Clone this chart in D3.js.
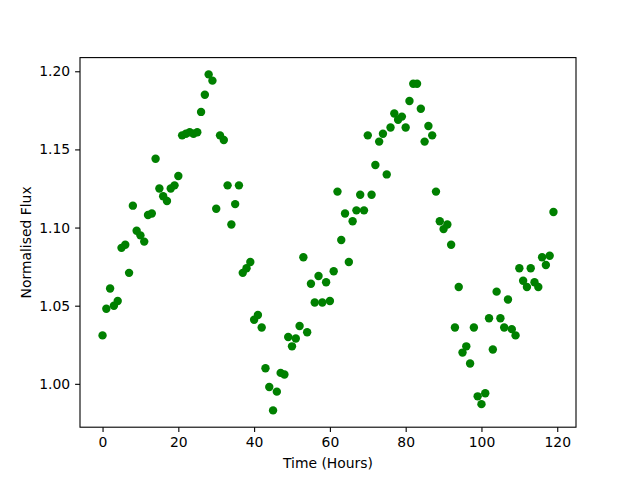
<!DOCTYPE html>
<html>
<head>
<script src="https://cdn.jsdelivr.net/npm/d3@7"></script>
<style>
  body { margin: 0; background: #fff; }
  text { font-family: "DejaVu Sans", sans-serif; }
</style>
</head>
<body>
<div id="chart"></div>
<script>
// hours of observation
var hours = d3.range(0, 120);
// normalised flux, one reading per hour
var flux = [
  1.031, 1.048, 1.061, 1.050, 1.053, 1.087, 1.089, 1.071, 1.114, 1.098,
  1.095, 1.091, 1.108, 1.109, 1.144, 1.125, 1.120, 1.117, 1.125, 1.127,
  1.133, 1.159, 1.160, 1.161, 1.160, 1.161, 1.174, 1.185, 1.198, 1.194,
  1.112, 1.159, 1.156, 1.127, 1.102, 1.115, 1.127, 1.071, 1.074, 1.078,
  1.041, 1.044, 1.036, 1.010, 0.998, 0.983, 0.995, 1.007, 1.006, 1.030,
  1.024, 1.029, 1.037, 1.081, 1.033, 1.064, 1.052, 1.069, 1.052, 1.065,
  1.053, 1.072, 1.123, 1.092, 1.109, 1.078, 1.104, 1.111, 1.121, 1.111,
  1.159, 1.121, 1.140, 1.155, 1.160, 1.134, 1.164, 1.173, 1.169, 1.171,
  1.164, 1.181, 1.192, 1.192, 1.176, 1.155, 1.165, 1.159, 1.123, 1.104,
  1.099, 1.102, 1.089, 1.036, 1.062, 1.020, 1.024, 1.013, 1.036, 0.992,
  0.987, 0.994, 1.042, 1.022, 1.059, 1.042, 1.036, 1.054, 1.035, 1.031,
  1.074, 1.066, 1.062, 1.074, 1.065, 1.062, 1.081, 1.076, 1.082, 1.110
];
var xTicks = [0, 20, 40, 60, 80, 100, 120];
var yTicks = [1.00, 1.05, 1.10, 1.15, 1.20];

var W = 640, H = 480,
    ax_l = 80, ax_r = 576,
    ax_t = 57.6, ax_b = 427.2;

var svg = d3.select("#chart").append("svg")
    .attr("width", W)
    .attr("height", H);

// matplotlib style 5% padding
function pad(ext) {
    var d = (ext[1] - ext[0]) * 0.05;
    return [ext[0] - d, ext[1] + d];
}

var x = d3.scaleLinear()
    .domain(pad(d3.extent(hours)))
    .range([ax_l, ax_r]);
var y = d3.scaleLinear()
    .domain(pad(d3.extent(flux)))
    .range([ax_b, ax_t]);

svg.selectAll("circle")
    .data(hours)
    .enter().append("circle")
        .attr("cx", function(d) { return x(d); })
        .attr("cy", function(d, i) { return y(flux[i]); })
        .attr("r", 4.2)
        .attr("fill", "#008000");

var xAxis = svg.append("g")
    .attr("transform", "translate(0," + ax_b + ")")
    .call(d3.axisBottom(x).tickValues(xTicks).tickSize(4.9).tickPadding(4.9));
var yAxis = svg.append("g")
    .attr("transform", "translate(" + ax_l + ",0)")
    .call(d3.axisLeft(y).tickValues(yTicks).tickFormat(d3.format(".2f")).tickSize(4.9).tickPadding(4.9));

[xAxis, yAxis].forEach(function(g) {
    g.select(".domain").remove();
    g.selectAll("line").attr("stroke", "#000").attr("stroke-width", 1.1);
    g.selectAll("text")
        .attr("fill", "#000")
        .style("font-size", "13.9px")
        .style("font-family", "DejaVu Sans, sans-serif");
});

// frame
svg.append("rect")
    .attr("x", ax_l)
    .attr("y", ax_t)
    .attr("width", ax_r - ax_l)
    .attr("height", ax_b - ax_t)
    .attr("fill", "none")
    .attr("stroke", "#000")
    .attr("stroke-width", 1.1);

svg.append("text")
    .attr("x", (ax_l + ax_r) / 2)
    .attr("y", 468)
    .attr("text-anchor", "middle")
    .style("font-size", "13.9px")
    .text("Time (Hours)");

svg.append("text")
    .attr("transform", "translate(31," + ((ax_t + ax_b) / 2) + ")rotate(-90)")
    .attr("text-anchor", "middle")
    .style("font-size", "13.9px")
    .text("Normalised Flux");
</script>
</body>
</html>
